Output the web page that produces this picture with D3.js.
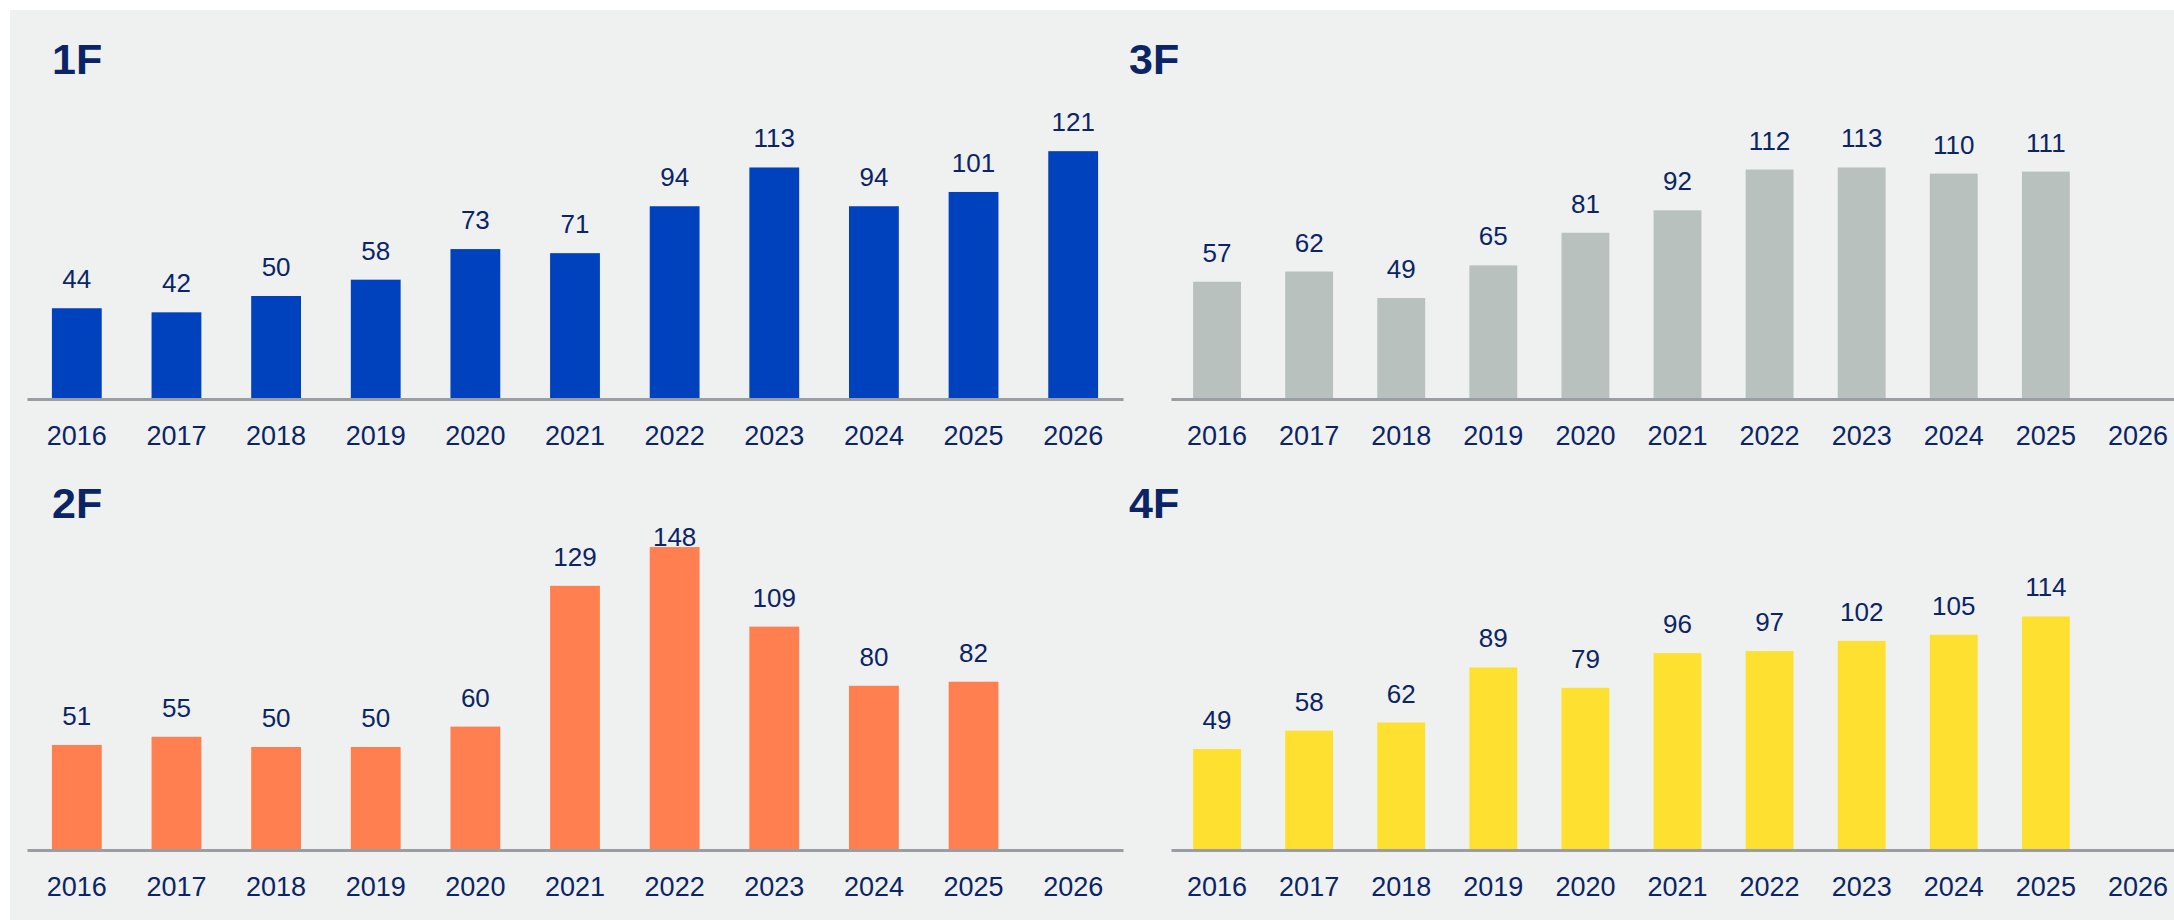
<!DOCTYPE html>
<html>
<head>
<meta charset="utf-8">
<script src="https://cdn.jsdelivr.net/npm/d3@7"></script>
<style>
  html, body { margin: 0; padding: 0; background: #ffffff; }
  svg { display: block; font-family: "Liberation Sans", Arial, sans-serif; }
</style>
</head>
<body>
<svg id="chart" width="2174" height="920"></svg>
<script>
// années (axe des abscisses)
var years = ["2016", "2017", "2018", "2019", "2020", "2021", "2022", "2023", "2024", "2025", "2026"];

// valeurs par étage
var values1F = [44, 42, 50, 58, 73, 71, 94, 113, 94, 101, 121];
var values2F = [51, 55, 50, 50, 60, 129, 148, 109, 80, 82];
var values3F = [57, 62, 49, 65, 81, 92, 112, 113, 110, 111];
var values4F = [49, 58, 62, 89, 79, 96, 97, 102, 105, 114];

var titles = ["1F", "2F", "3F", "4F"];
var colors = ["#0042BE", "#FF7F50", "#B9C1BF", "#FDE030"];

var textColor = "#0B2466";
var svg = d3.select("#chart");

// fond gris clair
svg.append("rect")
  .attr("x", 10).attr("y", 10)
  .attr("width", 2164).attr("height", 910)
  .attr("fill", "#EFF1F0");

// description des 4 panneaux : colonne gauche / droite, ligne haut / bas
var panels = [
  {title: titles[0], values: values1F, color: colors[0], col: 0, row: 0},
  {title: titles[1], values: values2F, color: colors[1], col: 0, row: 1},
  {title: titles[2], values: values3F, color: colors[2], col: 1, row: 0},
  {title: titles[3], values: values4F, color: colors[3], col: 1, row: 1}
];

var colRange = [[27, 1123], [1171, 2184]];
var colPad = [0.5, 0.48];
var colTitleX = [52, 1129];
var rowBase = [398, 849];
var rowTitleY = [74, 518];

panels.forEach(function(p) {
  var base = rowBase[p.row];

  var xScale = d3.scaleBand()
    .domain(years)
    .range(colRange[p.col])
    .paddingInner(colPad[p.col])
    .paddingOuter(colPad[p.col] / 2);

  var yScale = d3.scaleLinear()
    .domain([0, 150])
    .range([base, base - 150 * 2.04]);

  var g = svg.append("g");

  // titre du panneau
  g.append("text")
    .attr("x", colTitleX[p.col])
    .attr("y", rowTitleY[p.row])
    .attr("fill", textColor)
    .style("font-size", "43px")
    .style("font-weight", "bold")
    .text(p.title);

  var data = p.values.map(function(v, i) { return {year: years[i], value: v}; });

  // barres
  g.selectAll("rect.bar")
    .data(data)
    .enter()
    .append("rect")
    .attr("class", "bar")
    .attr("x", function(d) { return xScale(d.year); })
    .attr("y", function(d) { return yScale(d.value); })
    .attr("width", xScale.bandwidth())
    .attr("height", function(d) { return yScale(0) - yScale(d.value); })
    .attr("fill", p.color);

  // étiquettes de valeurs (limitées en haut du panneau)
  var labelTop = base - 303;
  g.selectAll("text.val")
    .data(data)
    .enter()
    .append("text")
    .attr("class", "val")
    .attr("x", function(d) { return xScale(d.year) + xScale.bandwidth() / 2; })
    .attr("y", function(d) { return Math.max(yScale(d.value) - 20, labelTop); })
    .attr("text-anchor", "middle")
    .attr("fill", textColor)
    .style("font-size", "26px")
    .text(function(d) { return d.value; });

  // axe des abscisses
  var axis = g.append("g")
    .attr("transform", "translate(0," + (base + 1) + ")")
    .call(d3.axisBottom(xScale).tickSize(0).tickSizeOuter(0));

  axis.select(".domain")
    .attr("stroke", "#9A9EA2")
    .attr("stroke-width", 3);

  axis.selectAll(".tick text")
    .attr("y", 46)
    .attr("dy", null)
    .attr("fill", textColor)
    .style("font-size", "27px")
    .style("font-family", "'Liberation Sans', Arial, sans-serif");
});
</script>
</body>
</html>
